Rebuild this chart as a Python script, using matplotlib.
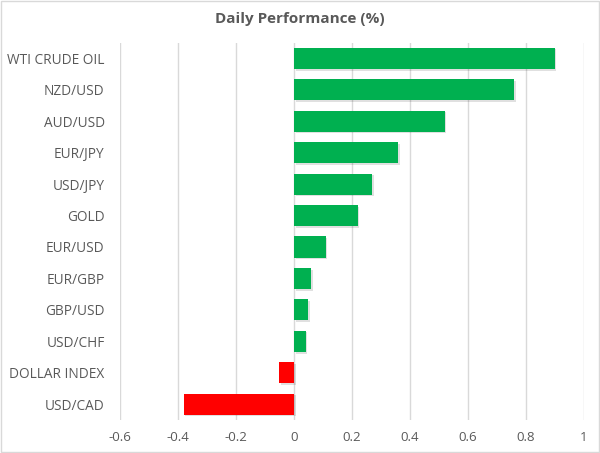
import numpy as np
import matplotlib.pyplot as plt
import matplotlib.patheffects as pe

# daily performance values, top to bottom
labels = ["WTI CRUDE OIL", "NZD/USD", "AUD/USD", "EUR/JPY", "USD/JPY", "GOLD",
          "EUR/USD", "EUR/GBP", "GBP/USD", "USD/CHF", "DOLLAR INDEX", "USD/CAD"]
values = [0.90, 0.76, 0.52, 0.36, 0.27, 0.22, 0.11, 0.06, 0.05, 0.04, -0.05, -0.38]
xticks = [-0.6, -0.4, -0.2, 0, 0.2, 0.4, 0.6, 0.8, 1]
xtick_labels = ["-0.6", "-0.4", "-0.2", "0", "0.2", "0.4", "0.6", "0.8", "1"]

plt.rcParams['font.family'] = ['Open Sans', 'DejaVu Sans']
text_col = "#595959"

fig = plt.figure(figsize=(6, 4.53), dpi=100)
ax = fig.add_axes([0.2, 0.073, 0.773, 0.833])

y = np.arange(len(labels))
colors = ["#00B050" if v >= 0 else "#FF0000" for v in values]
bars = ax.barh(y, values, height=0.67, color=colors, zorder=3)
for b in bars:
    b.set_path_effects([pe.SimplePatchShadow(offset=(1.2, -1.2), shadow_rgbFace="#000000", alpha=0.12),
                        pe.Normal()])

ax.set_ylim(len(labels) - 0.5, -0.5)
ax.set_xlim(-0.6, 1)
ax.set_yticks(y)
ax.set_yticklabels(labels, fontsize=9.8, color=text_col)
ax.set_xticks(xticks)
ax.set_xticklabels(xtick_labels, fontsize=9.5, color=text_col)
ax.tick_params(axis='y', length=0, pad=11)
ax.tick_params(axis='x', length=0, pad=8)
ax.grid(axis='x', color="#D9D9D9", linewidth=1, zorder=0)
for s in ax.spines.values():
    s.set_visible(False)

fig.text(0.5, 0.958, "Daily Performance (%)", ha='center', va='center',
         fontsize=11, fontweight='bold', color=text_col)

# light border around the chart
fig.patches.append(plt.Rectangle((0.002, 0.002), 0.996, 0.996, transform=fig.transFigure,
                                 fill=False, edgecolor="#D9D9D9", linewidth=1))

fig.savefig("out.png", dpi=100)
